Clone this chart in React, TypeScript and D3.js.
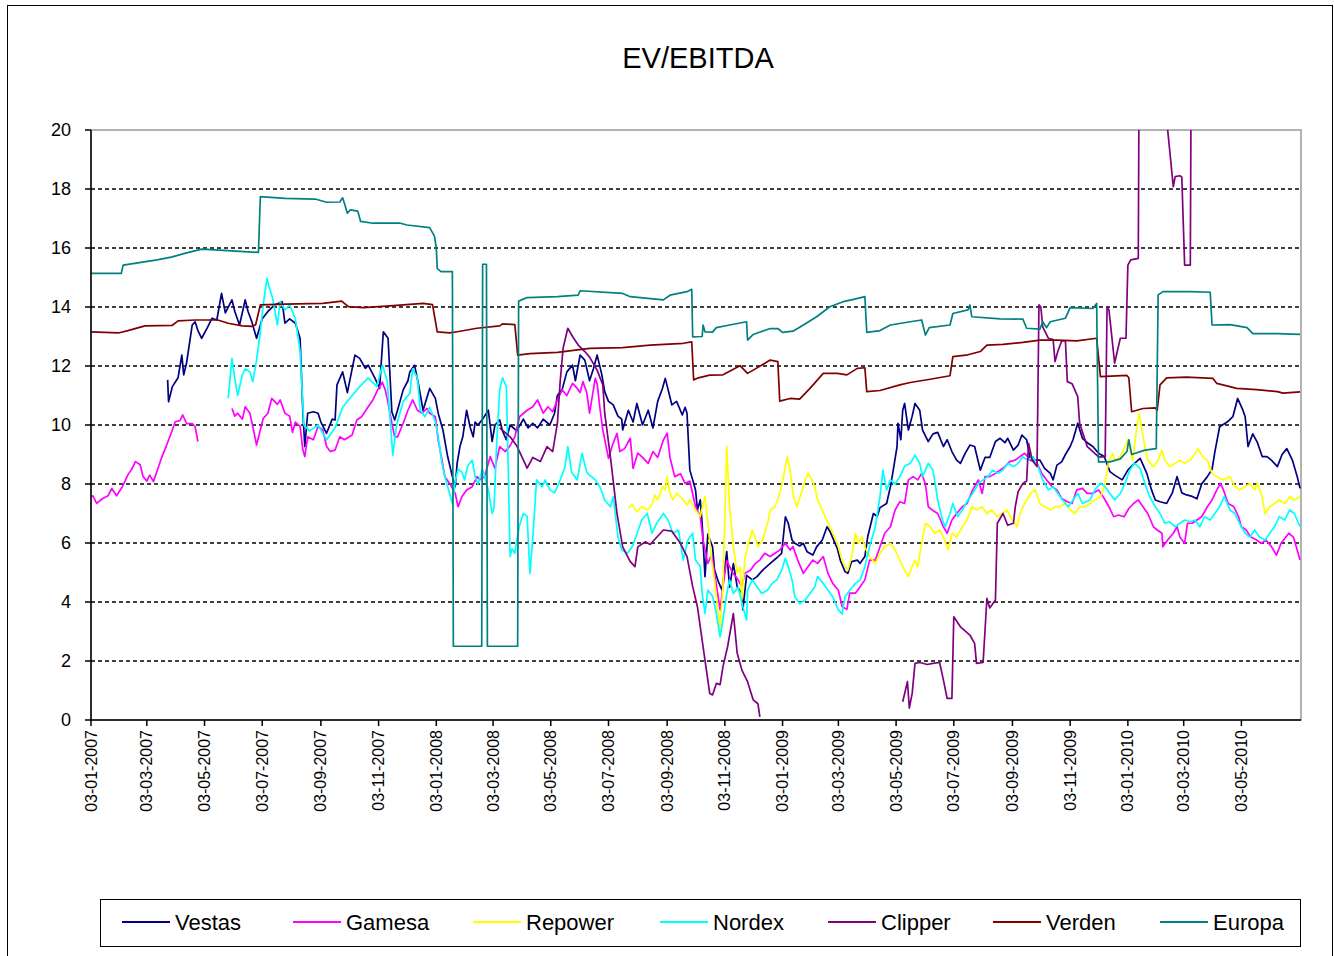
import React from 'react';
import * as d3 from 'd3';

// Axis: first tick date and end of the time axis
const START = new Date(2007, 0, 3);
const END = new Date(2010, 6, 5);

const X_TICK_LABELS = [
  '03-01-2007', '03-03-2007', '03-05-2007', '03-07-2007', '03-09-2007', '03-11-2007',
  '03-01-2008', '03-03-2008', '03-05-2008', '03-07-2008', '03-09-2008', '03-11-2008',
  '03-01-2009', '03-03-2009', '03-05-2009', '03-07-2009', '03-09-2009', '03-11-2009',
  '03-01-2010', '03-03-2010', '03-05-2010',
];
const Y_TICKS = [0, 2, 4, 6, 8, 10, 12, 14, 16, 18, 20];

// Each point: [days after 03-01-2007, EV/EBITDA]; null = no data
type Pt = [number, number | null];

const vestas: Pt[] = [
  [81, 11.53], [82, 10.79], [86, 11.3], [92, 11.6], [96, 12.37], [98, 11.7], [101, 12.1], [107, 13.39], [110, 13.5],
  [113, 13.2], [117, 12.94], [123, 13.3], [128, 13.62], [133, 13.56], [138, 14.46], [142, 13.8], [149, 14.24],
  [152, 13.85], [157, 13.39], [163, 14.24], [166, 13.85], [170, 13.5], [175, 12.94], [181, 13.6], [187, 13.85],
  [194, 14.07], [202, 14.18], [205, 13.45], [210, 13.6], [216, 13.45], [221, 12.94], [224, 10.4], [226, 9.27],
  [229, 10.4], [235, 10.45], [240, 10.4], [243, 10.1], [249, 9.72], [255, 10.2], [258, 10.17], [260, 11.36],
  [266, 11.8], [271, 11.1], [276, 11.9], [279, 12.37], [284, 12.26], [290, 11.92], [293, 12.03], [300, 11.6],
  [305, 11.24], [309, 13.16], [314, 12.94], [318, 10.45], [321, 10.17], [324, 10.5], [330, 11.19], [335, 11.5],
  [337, 11.8], [342, 12.03], [346, 11.4], [351, 10.5], [358, 11.24], [364, 10.9], [367, 10.4], [372, 9.83],
  [377, 8.93], [382, 8.25], [385, 7.91], [387, 8.7], [390, 9.27], [393, 9.6], [397, 10.5], [401, 9.9], [404, 9.6],
  [406, 10.1], [409, 10.0], [414, 10.2], [420, 10.5], [424, 9.44], [427, 10.0], [432, 10.17], [435, 9.8], [439, 9.5],
  [443, 10.0], [450, 9.8], [457, 10.2], [462, 9.9], [467, 10.06], [472, 9.9], [478, 10.2], [485, 10.0], [490, 10.4],
  [493, 11.0], [498, 11.2], [503, 11.8], [509, 12.03], [512, 11.5], [517, 12.37], [522, 12.2], [527, 11.5],
  [531, 11.9], [535, 12.37], [540, 11.7], [543, 11.13], [547, 10.8], [552, 10.68], [557, 10.3], [561, 10.2],
  [562, 9.83], [568, 10.5], [573, 10.1], [577, 10.73], [583, 10.0], [589, 10.5], [594, 9.9], [599, 10.8],
  [604, 11.24], [607, 11.58], [610, 11.2], [614, 10.68], [619, 10.8], [625, 10.34], [628, 10.6], [630, 10.4],
  [633, 8.47], [636, 8.14], [639, 7.8], [641, 7.12], [644, 7.46], [646, 6.67], [649, 4.86], [652, 6.3], [657, 5.87],
  [659, 5.1], [663, 4.7], [667, 4.4], [672, 5.71], [675, 4.5], [679, 5.3], [683, 4.52], [688, 4.3], [689, 3.73],
  [693, 4.9], [699, 4.75], [704, 4.86], [710, 5.08], [718, 5.31], [725, 5.5], [730, 5.65], [734, 6.89], [737, 6.67],
  [741, 6.1], [744, 5.99], [749, 5.9], [753, 5.99], [757, 5.7], [763, 5.59], [767, 5.87], [773, 6.1], [778, 6.55],
  [781, 6.4], [789, 5.8], [792, 5.42], [797, 5.03], [800, 4.97], [804, 5.37], [810, 5.42], [813, 5.31], [818, 5.54],
  [821, 6.21], [827, 7.0], [831, 6.9], [834, 7.2], [841, 7.34], [845, 7.91], [848, 8.47], [852, 9.27], [853, 10.06],
  [856, 9.5], [858, 10.5], [860, 10.73], [864, 9.83], [868, 10.3], [871, 10.73], [876, 10.5], [879, 9.83],
  [885, 9.44], [890, 9.7], [895, 9.75], [901, 9.27], [905, 9.5], [910, 9.1], [915, 8.81], [919, 8.7], [924, 9.04],
  [929, 9.32], [934, 9.27], [940, 8.47], [945, 8.9], [950, 8.9], [956, 9.44], [961, 9.55], [966, 9.4], [969, 9.55],
  [975, 9.15], [980, 9.32], [984, 9.66], [989, 9.5], [993, 8.8], [998, 8.81], [1003, 8.81], [1008, 8.53],
  [1014, 8.36], [1017, 8.14], [1021, 8.64], [1026, 8.75], [1030, 9.0], [1035, 9.27], [1038, 9.5], [1043, 10.06],
  [1048, 9.55], [1054, 9.38], [1059, 9.27], [1065, 9.04], [1071, 8.93], [1077, 8.42], [1082, 8.3], [1090, 8.14],
  [1096, 8.47], [1101, 8.64], [1109, 8.87], [1116, 8.36], [1121, 7.8], [1125, 7.46], [1130, 7.4], [1137, 7.34],
  [1143, 7.7], [1148, 8.25], [1153, 7.7], [1158, 7.63], [1164, 7.58], [1169, 7.5], [1174, 8.0], [1180, 8.25],
  [1185, 8.5], [1188, 9.1], [1193, 9.94], [1201, 10.1], [1207, 10.28], [1212, 10.9], [1217, 10.55], [1220, 10.28],
  [1223, 9.27], [1228, 9.7], [1233, 9.4], [1238, 8.93], [1243, 8.93], [1248, 8.8], [1254, 8.59], [1259, 9.0],
  [1264, 9.2], [1270, 8.8], [1275, 8.25], [1278, 7.85],
];

const gamesa: Pt[] = [
  [0, 7.57], [2, 7.6], [6, 7.34], [12, 7.5], [18, 7.6], [22, 7.85], [27, 7.6], [33, 7.9], [39, 8.31], [43, 8.5],
  [47, 8.76], [52, 8.65], [55, 8.25], [59, 8.1], [62, 8.3], [66, 8.08], [70, 8.45], [75, 8.93], [80, 9.32],
  [86, 9.83], [89, 10.11], [94, 10.15], [97, 10.34], [101, 10.05], [107, 10.05], [110, 9.95], [113, 9.44],
  [130, null],
  [149, 10.56], [152, 10.3], [155, 10.4], [160, 10.2], [163, 10.62], [168, 10.4], [171, 9.95], [175, 9.32],
  [179, 9.83], [182, 10.22], [187, 10.4], [191, 10.9], [197, 10.7], [200, 10.85], [205, 10.4], [210, 10.3],
  [213, 9.75], [216, 10.1], [221, 9.95], [224, 9.15], [226, 8.93], [229, 9.6], [235, 9.5], [240, 9.95], [245, 9.83],
  [249, 9.27], [253, 9.1], [258, 9.15], [263, 9.6], [268, 9.5], [276, 9.66], [281, 10.17], [286, 10.28],
  [293, 10.62], [298, 10.85], [303, 11.19], [308, 11.45], [311, 11.19], [314, 10.75], [318, 10.06], [321, 9.6],
  [324, 9.6], [330, 10.06], [335, 10.5], [340, 10.85], [345, 10.5], [350, 10.4], [355, 10.56], [358, 10.4],
  [364, 10.28], [367, 9.49], [371, 8.81], [374, 8.25], [379, 8.02], [385, 7.68], [388, 7.23], [392, 7.57],
  [397, 7.8], [403, 7.91], [408, 8.25], [411, 8.14], [416, 8.25], [422, 8.93], [427, 8.53], [432, 9.27], [438, 9.1],
  [443, 9.3], [448, 9.6], [453, 10.28], [461, 10.5], [467, 10.62], [472, 10.85], [478, 10.4], [483, 10.62],
  [488, 10.45], [493, 10.85], [498, 11.19], [503, 11.0], [509, 11.41], [514, 11.24], [517, 11.1], [520, 11.47],
  [524, 11.1], [527, 10.4], [533, 11.58], [535, 11.4], [538, 10.56], [541, 9.83], [547, 8.87], [551, 9.3],
  [556, 9.72], [559, 9.1], [564, 9.2], [570, 9.55], [573, 8.53], [578, 9.05], [583, 8.9], [589, 8.7], [594, 9.1],
  [599, 8.9], [605, 9.49], [609, 9.72], [612, 8.9], [617, 8.25], [623, 8.35], [628, 8.02], [633, 8.1], [639, 7.23],
  [644, 6.9], [647, 6.1], [652, 5.31], [656, 5.6], [659, 5.0], [665, 3.73], [668, 4.52], [672, 5.4], [678, 5.0],
  [683, 4.8], [688, 4.52], [691, 4.97], [697, 5.08], [702, 5.3], [707, 5.42], [712, 5.65], [718, 5.54], [723, 5.65],
  [728, 5.76], [734, 5.99], [739, 5.76], [742, 5.88], [747, 5.42], [753, 4.97], [758, 5.2], [763, 5.42],
  [768, 5.31], [774, 5.54], [779, 4.97], [784, 4.63], [790, 4.4], [794, 3.84], [799, 3.75], [802, 4.3], [808, 4.3],
  [813, 4.52], [818, 4.75], [823, 5.42], [829, 5.42], [834, 5.87], [839, 6.33], [845, 6.55], [850, 7.12],
  [855, 7.4], [860, 7.34], [864, 8.14], [869, 8.25], [874, 8.14], [878, 8.36], [882, 8.0], [885, 7.23], [890, 7.1],
  [895, 7.0], [901, 6.55], [905, 6.33], [910, 6.78], [915, 7.0], [921, 7.23], [926, 7.34], [932, 7.8], [938, 8.14],
  [942, 7.68], [945, 8.25], [950, 8.25], [956, 8.36], [961, 8.47], [966, 8.59], [971, 8.76], [977, 8.81],
  [982, 8.93], [987, 9.04], [993, 8.81], [1000, 8.7], [1005, 8.36], [1010, 8.14], [1016, 7.91], [1021, 7.8],
  [1026, 7.51], [1032, 7.4], [1037, 7.34], [1042, 7.8], [1048, 7.85], [1053, 7.68], [1059, 7.68], [1065, 7.8],
  [1071, 7.51], [1076, 7.23], [1081, 6.89], [1086, 6.95], [1092, 6.89], [1097, 7.17], [1102, 7.34], [1107, 7.46],
  [1112, 7.23], [1117, 7.0], [1123, 6.55], [1127, 6.44], [1132, 6.33], [1133, 5.87], [1138, 6.1], [1144, 6.33],
  [1148, 6.55], [1151, 6.2], [1156, 5.99], [1159, 6.67], [1164, 6.67], [1169, 6.78], [1174, 6.89], [1180, 7.23],
  [1185, 7.46], [1190, 7.8], [1194, 8.02], [1197, 7.8], [1202, 7.34], [1208, 7.23], [1213, 6.89], [1216, 6.55],
  [1221, 6.44], [1226, 6.2], [1232, 6.1], [1237, 5.99], [1242, 6.1], [1248, 5.87], [1253, 5.59], [1258, 5.99],
  [1266, 6.33], [1271, 6.2], [1278, 5.42],
];

const repower: Pt[] = [
  [568, 7.18], [572, 7.3], [577, 7.06], [582, 7.23], [588, 7.12], [593, 7.3], [596, 7.63], [599, 7.46], [604, 7.91],
  [607, 7.8], [609, 8.25], [612, 7.68], [615, 7.46], [619, 7.68], [625, 7.5], [630, 7.29], [633, 7.46], [639, 7.12],
  [644, 6.9], [649, 7.57], [652, 6.67], [656, 5.42], [659, 4.75], [663, 3.61], [665, 3.16], [668, 4.5], [672, 9.27],
  [675, 7.23], [679, 5.87], [683, 4.97], [686, 5.2], [688, 4.07], [691, 5.42], [694, 5.87], [699, 6.44], [702, 6.2],
  [705, 5.87], [710, 6.1], [716, 6.78], [718, 7.12], [723, 7.23], [728, 7.68], [732, 8.25], [736, 8.92], [739, 8.47],
  [742, 7.68], [746, 7.23], [752, 7.8], [755, 8.14], [758, 8.36], [762, 8.14], [765, 7.91], [768, 7.46], [773, 7.12],
  [776, 6.89], [781, 6.55], [786, 6.21], [790, 5.87], [794, 5.42], [797, 5.2], [800, 5.08], [804, 5.54], [808, 6.33],
  [811, 5.99], [815, 6.21], [818, 5.87], [823, 5.54], [829, 5.31], [834, 5.65], [839, 5.87], [845, 5.99],
  [850, 5.76], [855, 5.42], [858, 5.2], [864, 4.86], [868, 5.2], [871, 5.42], [874, 5.2], [878, 5.99], [882, 6.67],
  [887, 6.55], [892, 6.33], [897, 6.44], [901, 6.2], [906, 5.76], [910, 6.33], [915, 6.2], [921, 6.55], [926, 6.78],
  [931, 7.23], [936, 7.12], [942, 7.23], [947, 7.0], [952, 7.12], [958, 6.89], [963, 7.0], [968, 7.12], [974, 6.78],
  [979, 6.55], [982, 7.0], [987, 7.34], [993, 7.68], [998, 7.8], [1003, 7.34], [1008, 7.23], [1014, 7.12],
  [1019, 7.23], [1024, 7.23], [1030, 7.34], [1035, 7.12], [1040, 7.0], [1045, 7.23], [1051, 7.23], [1056, 7.34],
  [1061, 7.46], [1067, 7.57], [1071, 7.91], [1076, 8.81], [1080, 9.04], [1082, 8.81], [1088, 8.93], [1093, 9.27],
  [1096, 9.5], [1101, 8.81], [1105, 9.8], [1108, 10.4], [1111, 9.8], [1114, 9.27], [1117, 8.81], [1123, 8.59],
  [1128, 8.81], [1132, 9.15], [1135, 8.81], [1140, 8.59], [1146, 8.7], [1151, 8.81], [1156, 8.7], [1162, 8.81],
  [1167, 9.04], [1170, 9.2], [1175, 8.93], [1180, 8.81], [1185, 8.36], [1190, 8.25], [1196, 8.14], [1204, 8.25],
  [1209, 7.91], [1214, 7.8], [1220, 7.91], [1225, 8.02], [1230, 7.8], [1233, 8.02], [1238, 7.57], [1241, 7.0],
  [1246, 7.23], [1251, 7.34], [1256, 7.46], [1262, 7.34], [1267, 7.57], [1272, 7.46], [1278, 7.57],
];

const nordex: Pt[] = [
  [145, 10.9], [149, 12.26], [152, 11.58], [155, 11.0], [160, 11.7], [163, 11.9], [168, 11.8], [171, 11.47],
  [175, 12.2], [179, 13.16], [182, 14.07], [186, 14.97], [189, 14.6], [192, 14.3], [197, 13.39], [200, 14.18],
  [205, 13.9], [210, 14.07], [216, 13.6], [221, 12.5], [225, 10.0], [231, 9.8], [240, 10.0], [249, 9.5], [258, 9.9],
  [266, 10.6], [276, 11.0], [284, 11.3], [293, 11.6], [302, 11.3], [308, 12.03], [313, 11.5], [316, 10.28],
  [319, 8.98], [323, 10.0], [330, 10.8], [337, 11.07], [340, 11.9], [345, 11.6], [348, 10.5], [353, 10.28],
  [358, 10.6], [364, 10.1], [367, 9.6], [371, 8.7], [374, 8.25], [377, 7.91], [382, 7.34], [385, 8.1], [388, 8.5],
  [392, 8.4], [395, 8.14], [398, 8.6], [403, 8.81], [406, 8.25], [409, 8.0], [414, 8.5], [420, 7.8], [424, 7.0],
  [426, 7.2], [429, 9.49], [432, 11.19], [435, 11.6], [439, 11.3], [441, 8.59], [443, 5.54], [445, 5.8],
  [448, 5.65], [450, 6.1], [453, 6.6], [457, 7.0], [461, 6.9], [464, 4.97], [467, 6.2], [471, 8.14], [477, 7.9],
  [480, 8.14], [485, 7.8], [490, 7.7], [496, 8.14], [501, 8.59], [504, 9.27], [508, 8.4], [514, 8.14], [519, 9.04],
  [524, 8.4], [527, 8.3], [533, 8.14], [538, 7.9], [543, 7.46], [549, 7.23], [552, 7.57], [557, 6.21], [561, 5.76],
  [567, 5.65], [572, 5.87], [577, 6.3], [582, 6.78], [588, 7.0], [593, 6.33], [598, 6.67], [605, 7.0], [610, 6.78],
  [615, 6.33], [621, 6.44], [626, 5.42], [631, 6.1], [636, 6.33], [639, 5.42], [644, 5.2], [646, 4.29], [649, 3.61],
  [652, 4.4], [657, 4.2], [661, 3.61], [665, 2.82], [668, 3.4], [672, 4.29], [675, 4.75], [679, 4.29], [684, 4.5],
  [689, 3.84], [693, 3.39], [694, 4.4], [699, 4.75], [704, 4.52], [709, 4.29], [715, 4.4], [720, 4.63],
  [725, 4.75], [730, 5.08], [734, 5.48], [737, 5.2], [741, 4.75], [744, 4.18], [749, 3.95], [755, 4.07],
  [760, 4.29], [765, 4.52], [768, 4.86], [774, 4.63], [779, 4.4], [784, 4.18], [790, 3.73], [794, 3.6], [797, 4.18],
  [802, 4.4], [808, 4.63], [813, 4.75], [818, 5.2], [823, 5.87], [829, 6.55], [834, 7.57], [837, 8.47], [841, 7.8],
  [845, 8.14], [850, 8.0], [855, 8.25], [860, 8.6], [866, 8.7], [871, 8.98], [876, 8.7], [879, 8.25], [885, 8.7],
  [890, 8.47], [895, 7.46], [900, 6.78], [903, 6.55], [908, 7.0], [911, 7.34], [916, 6.89], [921, 7.12],
  [927, 7.46], [932, 7.68], [938, 8.02], [943, 8.14], [948, 8.25], [953, 8.47], [959, 8.36], [964, 8.47],
  [969, 8.7], [975, 8.59], [980, 8.7], [985, 8.92], [990, 8.81], [996, 8.92], [1001, 8.59], [1006, 8.14],
  [1012, 7.8], [1017, 7.91], [1022, 7.68], [1027, 7.46], [1033, 7.23], [1038, 7.46], [1043, 7.68], [1048, 7.34],
  [1056, 7.46], [1061, 7.8], [1067, 8.02], [1072, 7.91], [1077, 7.68], [1082, 7.46], [1088, 7.68], [1093, 8.02],
  [1098, 8.47], [1103, 8.7], [1109, 8.53], [1114, 8.02], [1119, 7.57], [1125, 7.23], [1130, 7.0], [1135, 6.67],
  [1140, 6.72], [1146, 6.55], [1151, 6.67], [1156, 6.78], [1162, 6.72], [1167, 6.78], [1172, 6.55], [1177, 6.89],
  [1183, 6.78], [1188, 7.0], [1193, 7.23], [1198, 7.57], [1204, 7.12], [1209, 7.0], [1214, 6.67], [1220, 6.33],
  [1225, 6.2], [1230, 6.44], [1235, 6.2], [1241, 6.1], [1246, 6.33], [1251, 6.55], [1256, 6.89], [1262, 6.78],
  [1267, 7.12], [1272, 7.0], [1278, 6.55],
];

const clipper: Pt[] = [
  [432, 9.9], [443, 9.6], [450, 9.3], [461, 8.54], [467, 8.9], [475, 8.76], [482, 9.27], [488, 9.1], [493, 10.06],
  [496, 11.5], [499, 12.6], [504, 13.28], [509, 13.0], [515, 12.71], [522, 12.49], [527, 12.3], [535, 11.86],
  [541, 11.36], [543, 10.4], [549, 8.93], [556, 7.0], [562, 5.87], [570, 5.37], [575, 5.2], [578, 5.87], [586, 6.04],
  [591, 5.95], [605, 6.44], [614, 6.4], [623, 5.99], [630, 5.54], [636, 4.52], [641, 3.84], [647, 2.48], [654, 0.9],
  [657, 0.85], [661, 1.24], [665, 1.2], [668, 1.81], [673, 2.5], [679, 3.61], [683, 2.27], [688, 1.69], [694, 1.3],
  [700, 0.68], [705, 0.55], [707, 0.11],
  [780, null],
  [858, 0.62], [863, 1.3], [865, 0.4], [868, 0.9], [871, 1.92], [876, 1.95], [884, 1.88], [890, 1.92], [897, 1.95],
  [901, 1.36], [905, 0.73], [910, 0.73], [912, 3.5], [919, 3.16], [929, 2.88], [934, 2.6], [936, 1.92], [943, 1.95],
  [947, 4.12], [950, 3.8], [956, 4.07], [958, 6.67], [964, 7.0], [969, 6.6], [975, 6.67], [977, 7.23], [980, 7.74],
  [985, 8.02], [989, 8.1], [991, 9.38], [995, 8.8], [1000, 8.59], [1002, 14.07], [1004, 14.0], [1006, 13.33],
  [1012, 12.94], [1017, 12.9], [1019, 12.15], [1022, 12.5], [1026, 12.85], [1030, 12.85], [1032, 11.47],
  [1037, 11.4], [1043, 10.96], [1045, 10.06], [1053, 9.27], [1059, 9.1], [1065, 8.92], [1072, 8.92], [1074, 14.0],
  [1076, 13.9], [1082, 12.1], [1088, 12.94], [1094, 12.94], [1096, 15.42], [1099, 15.6], [1107, 15.65],
  [1109, 30], [1120, 32], [1135, 21], [1144, 18.08], [1146, 18.42], [1151, 18.45], [1153, 18.4], [1156, 15.42],
  [1162, 15.42], [1164, 30],
];

const verden: Pt[] = [
  [0, 13.16], [29, 13.12], [39, 13.2], [57, 13.36], [86, 13.38], [92, 13.53], [110, 13.56], [134, 13.56],
  [145, 13.45], [160, 13.36], [170, 13.34], [174, 13.4], [179, 14.07], [205, 14.1], [245, 14.12], [265, 14.2],
  [272, 14.01], [288, 13.98], [316, 14.04], [351, 14.12], [361, 14.08], [366, 13.16], [379, 13.12], [387, 13.16],
  [408, 13.28], [432, 13.36], [435, 13.43], [448, 13.4], [451, 12.37], [464, 12.42], [493, 12.46], [527, 12.6],
  [562, 12.62], [591, 12.71], [626, 12.77], [635, 12.82], [637, 11.53], [642, 11.6], [654, 11.69], [668, 11.7],
  [686, 12.01], [694, 11.75], [700, 11.86], [718, 12.2], [726, 12.15], [728, 10.81], [739, 10.9], [749, 10.88],
  [760, 11.24], [774, 11.75], [789, 11.75], [799, 11.7], [810, 11.92], [818, 11.94], [820, 11.13], [834, 11.17],
  [855, 11.36], [866, 11.44], [887, 11.55], [908, 11.67], [911, 12.32], [927, 12.38], [940, 12.49], [947, 12.71],
  [964, 12.73], [985, 12.8], [1003, 12.88], [1021, 12.88], [1042, 12.85], [1063, 12.94], [1067, 11.64],
  [1095, 11.68], [1097, 11.6], [1100, 10.45], [1112, 10.56], [1125, 10.58], [1127, 10.5], [1130, 11.36],
  [1137, 11.6], [1158, 11.62], [1186, 11.58], [1190, 11.41], [1211, 11.24], [1232, 11.2], [1254, 11.13],
  [1260, 11.08], [1278, 11.12],
];

const europa: Pt[] = [
  [0, 15.14], [32, 15.14], [34, 15.42], [70, 15.6], [86, 15.7], [99, 15.82], [117, 15.96], [149, 15.9], [177, 15.85],
  [179, 17.74], [205, 17.68], [237, 17.66], [249, 17.55], [263, 17.56], [266, 17.7], [268, 17.5], [271, 17.18],
  [274, 17.29], [282, 17.25], [285, 16.9], [298, 16.84], [327, 16.84], [334, 16.78], [358, 16.69], [363, 16.4],
  [365, 16.0], [366, 15.3], [370, 15.2], [382, 15.2], [383, 2.5], [413, 2.5], [414, 15.45], [418, 15.45],
  [419, 2.5], [451, 2.5], [452, 14.2], [461, 14.32], [493, 14.35], [515, 14.4], [517, 14.55], [562, 14.46],
  [570, 14.35], [605, 14.24], [612, 14.4], [630, 14.52], [635, 14.6], [636, 12.99], [646, 13.0], [647, 13.39],
  [649, 13.16], [657, 13.15], [661, 13.3], [675, 13.39], [693, 13.5], [694, 12.88], [700, 13.07], [718, 13.27],
  [726, 13.27], [731, 13.14], [742, 13.18], [753, 13.39], [767, 13.67], [781, 14.01], [795, 14.18], [805, 14.25],
  [818, 14.35], [820, 13.14], [834, 13.2], [845, 13.39], [866, 13.5], [878, 13.56], [882, 13.05], [886, 13.3],
  [908, 13.39], [911, 13.78], [927, 13.9], [929, 14.07], [931, 13.67], [961, 13.6], [985, 13.59], [989, 13.28],
  [1003, 13.25], [1006, 13.5], [1010, 13.3], [1014, 13.5], [1030, 13.62], [1035, 13.98], [1059, 13.95],
  [1063, 14.12], [1065, 8.75], [1077, 8.75], [1088, 8.85], [1095, 9.1], [1097, 9.5], [1100, 9.0], [1114, 9.15],
  [1126, 9.2], [1128, 14.41], [1133, 14.52], [1162, 14.52], [1183, 14.5], [1185, 13.39], [1204, 13.4],
  [1222, 13.3], [1228, 13.1], [1254, 13.1], [1278, 13.07],
];

const SERIES_NAMES = ['Vestas', 'Gamesa', 'Repower', 'Nordex', 'Clipper', 'Verden', 'Europa'];
const SERIES_DATA = [vestas, gamesa, repower, nordex, clipper, verden, europa];
const SERIES_COLORS = ['#000080', '#FF00FF', '#FFFF00', '#00FFFF', '#800080', '#800000', '#008080'];

const FONT = '"Liberation Sans", Arial, sans-serif';

export default function App() {
  const W = 1335;
  const H = 956;
  const left = 91, right = 1301, top = 130, bottom = 720;

  const x = d3.scaleTime().domain([START, END]).range([left, right]);
  const y = d3.scaleLinear().domain([0, 20]).range([bottom, top]);
  const parse = d3.timeParse('%d-%m-%Y');

  const line = d3
    .line<Pt>()
    .defined((d) => d[1] !== null)
    .x((d) => x(d3.timeDay.offset(START, d[0])))
    .y((d) => y(d[1] as number));

  const legendX = [122, 293, 473, 660, 828, 993, 1160];

  return (
    <svg
      width={W}
      height={H}
      style={{ position: 'absolute', left: 0, top: 0, background: '#fff' }}
      fontFamily={FONT}
    >
      <rect x={0} y={0} width={W} height={H} fill="#fff" />
      <rect x={7.5} y={5.5} width={1325} height={980} fill="none" stroke="#000" strokeWidth={1} />
      <text x={698} y={68} textAnchor="middle" fontSize={29} fill="#000">EV/EBITDA</text>

      <defs>
        <clipPath id="plotClip">
          <rect x={left} y={top} width={right - left} height={bottom - top} />
        </clipPath>
      </defs>

      {/* plot frame */}
      <rect x={left} y={top} width={right - left} height={bottom - top} fill="#fff" stroke="#999" strokeWidth={1.5} />

      {/* gridlines */}
      {Y_TICKS.filter((t) => t > 0 && t < 20).map((t) => (
        <line key={t} x1={left} x2={right} y1={y(t)} y2={y(t)} stroke="#000" strokeWidth={1.6} strokeDasharray="4,3" />
      ))}

      {/* series */}
      <g clipPath="url(#plotClip)">
        {SERIES_DATA.map((data, i) => (
          <path key={SERIES_NAMES[i]} d={line(data) || ''} fill="none" stroke={SERIES_COLORS[i]} strokeWidth={1.7} strokeLinejoin="round" />
        ))}
      </g>

      {/* axes */}
      <line x1={left} x2={left} y1={top} y2={bottom} stroke="#000" strokeWidth={1.5} />
      <line x1={left} x2={right} y1={bottom} y2={bottom} stroke="#000" strokeWidth={1.5} />
      {Y_TICKS.map((t) => (
        <g key={t}>
          <line x1={left - 6} x2={left} y1={y(t)} y2={y(t)} stroke="#000" strokeWidth={1.5} />
          <text x={left - 20} y={y(t)} dy="0.35em" textAnchor="end" fontSize={18} fill="#000">{t}</text>
        </g>
      ))}
      {X_TICK_LABELS.map((lab) => {
        const xp = x(parse(lab) as Date);
        return (
          <g key={lab}>
            <line x1={xp} x2={xp} y1={bottom} y2={bottom + 6} stroke="#000" strokeWidth={1.5} />
            <text
              transform={`translate(${xp},${bottom + 10}) rotate(-90)`}
              dy="0.35em"
              textAnchor="end"
              fontSize={16}
              fill="#000"
            >
              {lab}
            </text>
          </g>
        );
      })}

      {/* legend */}
      <rect x={100.5} y={899.5} width={1200} height={47} fill="#fff" stroke="#000" strokeWidth={1} />
      {SERIES_NAMES.map((name, i) => (
        <g key={name}>
          <line x1={legendX[i]} x2={legendX[i] + 48} y1={922} y2={922} stroke={SERIES_COLORS[i]} strokeWidth={2} />
          <text x={legendX[i] + 53} y={922} dy="0.35em" fontSize={22} fill="#000">{name}</text>
        </g>
      ))}
    </svg>
  );
}
